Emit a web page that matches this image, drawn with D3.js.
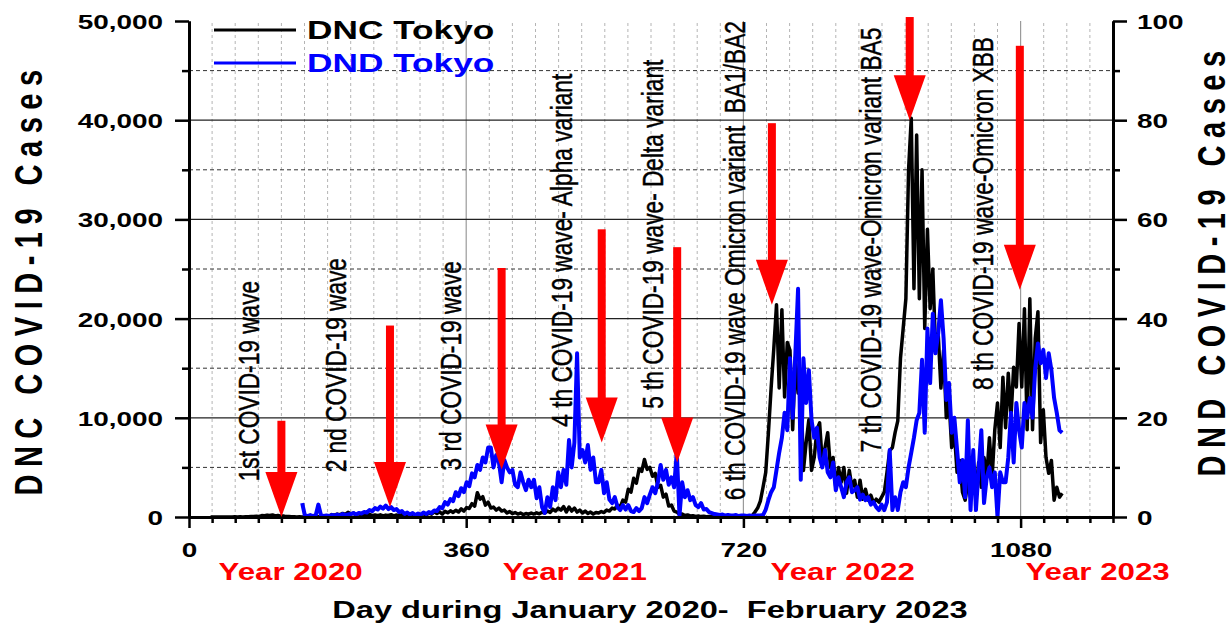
<!DOCTYPE html>
<html><head><meta charset="utf-8">
<script src="https://cdn.jsdelivr.net/npm/d3@7"></script>
<style>
html,body{margin:0;padding:0;background:#fff;}
svg{display:block;}
</style></head><body>
<svg id="chart" width="1232" height="626"></svg>
<script>
// ---------------- DATA ----------------
// DNC Tokyo daily cases, sampled every 3.5 days from day 28
const dncStartDay = 28, dncStep = 3.5;
const dncCases = [
  0,2,3,1,5,8,4,10,12,20,
  10,15,12,20,18,40,45,70,60,140,
  120,190,150,200,110,160,90,110,40,60,
  20,30,10,15,5,15,20,35,20,45,
  30,55,60,130,100,240,180,290,230,360,
  260,470,300,400,200,350,180,280,150,260,
  140,210,130,220,110,190,150,230,120,200,
  110,240,140,280,130,250,170,290,190,350,
  180,390,290,530,350,520,300,570,420,620,
  460,680,500,820,600,950,860,1340,1100,2450,
  1800,2050,1200,1500,900,1000,700,900,600,700,
  400,550,350,450,300,400,250,350,280,400,
  300,420,320,480,400,600,450,800,600,900,
  700,1050,500,1000,600,900,500,700,400,600,
  350,500,300,450,400,550,450,700,600,900,
  800,1200,1000,1700,1500,2800,2500,3900,3400,4800,
  4600,5800,4800,5000,4100,4400,3000,3200,2000,2300,
  1100,1200,600,500,250,300,150,200,100,130,
  60,100,40,70,30,50,20,40,15,30,
  10,30,15,25,20,30,25,40,60,80,
  60,150,500,900,1600,3000,4500,8500,13000,17000,
  21400,13000,20900,12100,17600,16800,8800,16100,12500,13800,
  4700,7500,9800,4700,6000,8800,9500,5400,7000,8500,
  5000,6000,3000,5000,3500,5000,2400,4700,3000,3700,
  2000,3700,1800,2800,1700,2200,1400,1800,1500,2000,
  2500,4500,6700,7000,8500,9700,16000,19000,22000,35000,
  40200,23000,38500,22000,35000,19000,29000,21000,25000,17000,
  18500,13000,16800,10000,11800,7000,8500,4500,5700,2500,
  1700,3500,2000,4700,2500,5500,3000,6000,4000,8000,
  4000,8800,11500,7000,14100,9000,14500,10000,15100,13100,
  19500,13100,21000,8800,22000,8800,18000,20700,7500,10800,
  6000,4400,5700,1700,3000,2000,2400
];
// DND Tokyo daily values, sampled every 3.5 days from day 147
const dndStartDay = 147, dndStep = 3.5;
const dndCases = [
  2.8,0.3,0.2,0.4,0.2,0.3,2.5,0.3,0.2,0.3,
  0.2,0.4,0.3,0.5,0.3,0.6,0.4,0.5,0.6,0.8,
  0.5,0.8,0.7,1.0,0.9,1.4,1.2,1.8,1.5,2.1,
  1.7,2.3,1.6,2.0,1.4,1.6,1.0,1.2,0.6,0.9,
  0.5,0.8,0.4,0.7,0.5,0.9,0.6,1.0,0.8,1.3,
  1.2,2.0,1.8,3.0,2.5,3.6,3.2,5.0,4.2,5.8,
  5.0,7.0,6.2,8.8,8.0,10.5,9.5,12.0,11.0,14.0,
  14,10,12.5,11,7,11.5,10,9,9.5,6.5,
  6,9,7,5.4,7.5,6,7.5,3.8,6,2,
  0.8,4,2,6,3.4,9,6,9.5,6.5,15.5,
  10,15,33,12,13.5,11,14.5,9.5,12,7,
  7,9.5,4.8,7,3.5,2.8,4,2,1.4,2.4,
  1.5,2.4,1.2,1,1.8,1.2,1.8,4,2.8,4.5,
  6,4.8,7,10.5,7.5,9.5,6.5,8,6,13,
  0.3,7,4,5.4,3.4,4,2.4,2,2.8,1.5,
  1.6,1,0.8,0.6,0.5,0.4,0.5,0.3,0.4,0.3,
  0.3,0.4,0.2,0.3,0.3,0.2,0.3,0.2,0.3,0.3,
  0.3,0.4,1.5,3.4,5,6,9.5,13,16,21,
  17.5,32,20,33,46,7.5,32,23,29.6,19.5,
  16,18,12,10,13.5,9,8,11,5.4,8,
  6,4,7,8,5,5.4,6,3.5,4.5,3.4,
  4,2.5,3,2,1.4,2.5,1.4,3,13.5,1.4,
  4,1.4,5,7,6,10,13,16,19.5,21,
  31.7,17,38,27,41,33,37,43.7,36,23.6,
  27,17,20,13.5,7,11.5,4,19.5,1.4,13.5,
  1.4,9.5,17.5,2.8,8,10,6,9,0,9,
  7,7,12,21,11,23,17.5,14,23,20,
  24,20,30,35,31,33.7,28,33,29.6,24,
  21,17.5,17
];
const seriesNames = ["DNC Tokyo", "DND Tokyo"];
const xTicks = [0, 360, 720, 1080];
const yLeftTicks = [0, 10000, 20000, 30000, 40000, 50000];
const yRightTicks = [0, 20, 40, 60, 80, 100];
const yearLabels = ["Year 2020", "Year 2021", "Year 2022", "Year 2023"];
const yearLabelDays = [132, 501, 849, 1180];
// wave annotations (label text, day and DNC level where the text starts)
const waveLabels = [
  "1st COVID-19 wave",
  "2 nd COVID-19 wave",
  "3 rd COVID-19 wave",
  "4 th COVID-19 wave- Alpha variant",
  "5 th COVID-19 wave- Delta variant",
  "6 th COVID-19 wave Omicron variant  BA1/BA2",
  "7 th COVID-19 wave-Omicron variant BA5",
  "8 th COVID-19 wave-Omicron XBB"
];
const waveLabelDays = [91, 204, 353, 497, 616, 722, 899, 1044];
const waveLabelCases = [3600, 4500, 4700, 9100, 10900, 1700, 6500, 12800];
// red arrows: day, start level, tip level (DNC cases)
const arrowDays = [120, 261, 406, 536, 634, 757, 936, 1079];
const arrowFrom = [9700, 19300, 25100, 29000, 27200, 39700, 50400, 47500];
const arrowTo = [0, 1000, 4800, 7500, 5500, 21400, 40000, 22900];

// ---------------- CHART ----------------
const FONT = '"Liberation Sans", Arial, Helvetica, sans-serif';
const SX = 1.33; // horizontal stretch of the original figure
const svg = d3.select('#chart').attr('font-family', FONT);

const x = d3.scaleLinear().domain([0, 1200]).range([189, 1113]);
const yL = d3.scaleLinear().domain([0, 50000]).range([517, 21]);
const yR = d3.scaleLinear().domain([0, 100]).range([517, 21]);

// grid
const grid = svg.append('g');
const vMinor = d3.range(30, 1200, 30).filter(d => d % 360 !== 0);
grid.selectAll('.vmin').data(vMinor).join('line')
  .attr('x1', d => x(d)).attr('x2', d => x(d))
  .attr('y1', yL(50000) + 2).attr('y2', yL(0))
  .attr('stroke', '#b4b4b4').attr('stroke-width', 1).attr('stroke-dasharray', '3,3');
grid.selectAll('.vmaj').data(xTicks.filter(d => d > 0)).join('line')
  .attr('x1', d => x(d)).attr('x2', d => x(d))
  .attr('y1', yL(50000)).attr('y2', yL(0))
  .attr('stroke', '#9a9a9a').attr('stroke-width', 1.2);
const hMinor = d3.range(5000, 50000, 10000);
grid.selectAll('.hmin').data(hMinor).join('line')
  .attr('x1', x(0)).attr('x2', x(1200))
  .attr('y1', d => yL(d)).attr('y2', d => yL(d))
  .attr('stroke', '#333').attr('stroke-width', 1).attr('stroke-dasharray', '4,3');
grid.selectAll('.hmaj').data(yLeftTicks.filter(d => d > 0 && d < 50000)).join('line')
  .attr('x1', x(0)).attr('x2', x(1200))
  .attr('y1', d => yL(d)).attr('y2', d => yL(d))
  .attr('stroke', '#222').attr('stroke-width', 1.2);

// series
const dncPts = dncCases.map((v, i) => [dncStartDay + i * dncStep, v]);
const dndPts = dndCases.map((v, i) => [dndStartDay + i * dndStep, v]);
svg.append('path').datum(dncPts)
  .attr('d', d3.line().x(d => x(d[0])).y(d => yL(d[1])))
  .attr('fill', 'none').attr('stroke', '#000').attr('stroke-width', 3.5).attr('stroke-linejoin', 'round');
svg.append('path').datum(dndPts)
  .attr('d', d3.line().x(d => x(d[0])).y(d => yR(d[1])))
  .attr('fill', 'none').attr('stroke', '#0000ff').attr('stroke-width', 4).attr('stroke-linejoin', 'round');

// axes
function styleAxis(g) {
  g.select('.domain').attr('stroke', '#000').attr('stroke-width', 3);
  g.selectAll('.tick line').attr('stroke', '#000').attr('stroke-width', 2.5);
}
const axL = svg.append('g').attr('transform', `translate(${x(0)},0)`)
  .call(d3.axisLeft(yL).tickValues(yLeftTicks).tickFormat(d3.format(',')).tickSize(14).tickSizeOuter(0));
styleAxis(axL);
axL.selectAll('text').attr('font-size', 21).attr('font-weight', 'bold').attr('fill', '#000')
  .attr('font-family', FONT).attr('x', -26 / SX).attr('dy', '0.36em').attr('transform', `scale(${SX},1)`);
const axLm = svg.append('g').attr('transform', `translate(${x(0)},0)`)
  .call(d3.axisLeft(yL).tickValues(hMinor).tickFormat('').tickSize(7).tickSizeOuter(0));
styleAxis(axLm);

const axR = svg.append('g').attr('transform', `translate(${x(1200)},0)`)
  .call(d3.axisRight(yR).tickValues(yRightTicks).tickSize(14).tickSizeOuter(0));
styleAxis(axR);
axR.selectAll('text').attr('font-size', 21).attr('font-weight', 'bold').attr('fill', '#000')
  .attr('font-family', FONT).attr('x', 24 / SX).attr('dy', '0.36em').attr('transform', `scale(${SX},1)`);
const axRm = svg.append('g').attr('transform', `translate(${x(1200)},0)`)
  .call(d3.axisRight(yR).tickValues(d3.range(10, 100, 20)).tickFormat('').tickSize(7).tickSizeOuter(0));
styleAxis(axRm);

const axB = svg.append('g').attr('transform', `translate(0,${yL(0)})`)
  .call(d3.axisBottom(x).tickValues(xTicks).tickFormat(d3.format('d')).tickSize(11).tickSizeOuter(0));
styleAxis(axB);
axB.selectAll('text').attr('font-size', 21).attr('font-weight', 'bold').attr('fill', '#000')
  .attr('font-family', FONT).attr('y', 40).attr('dy', 0).attr('transform', `scale(${SX},1)`);
const axBm = svg.append('g').attr('transform', `translate(0,${yL(0)})`)
  .call(d3.axisBottom(x).tickValues(d3.range(30, 1201, 30).filter(d => d % 360 !== 0)).tickFormat('').tickSize(6).tickSizeOuter(0));
styleAxis(axBm);

// helper for stretched horizontal text
function hText(px, py, txt, size, color, anchor) {
  return svg.append('text')
    .attr('transform', `translate(${px},${py}) scale(${SX},1)`)
    .attr('text-anchor', anchor).attr('font-size', size).attr('font-weight', 'bold')
    .attr('fill', color).style('white-space', 'pre').text(txt);
}
// rotated text (reads bottom to top)
function vText(px, py, txt, size, weight, anchor, spacing) {
  return svg.append('text')
    .attr('transform', `translate(${px},${py}) rotate(-90) scale(1,${SX})`)
    .attr('text-anchor', anchor).attr('font-size', size).attr('font-weight', weight)
    .attr('letter-spacing', spacing || 0)
    .attr('fill', '#000').style('white-space', 'pre').text(txt);
}

// year labels
yearLabels.forEach((t, i) => hText(x(yearLabelDays[i]), 580, t, 23.5, '#ff0000', 'middle'));
// x title
hText(650, 618, 'Day during January 2020-  February 2023', 24.5, '#000', 'middle');
// y titles
vText(42, 279, 'DNC COVID-19 Cases', 29, 'bold', 'middle', 7.5);
vText(1225, 260, 'DND COVID-19 Cases', 29, 'bold', 'middle', 7.5);

// arrows
const HEAD_W = 32, HEAD_H = 45, SHAFT_W = 8;
const arrows = svg.append('g');
arrowDays.forEach((d, i) => {
  const cx = x(d), yTop = yL(arrowFrom[i]), yTip = yL(arrowTo[i]);
  arrows.append('rect').attr('x', cx - SHAFT_W / 2).attr('y', yTop)
    .attr('width', SHAFT_W).attr('height', Math.max(0, yTip - HEAD_H - yTop + 1)).attr('fill', '#ff0000');
  arrows.append('path')
    .attr('d', `M${cx - HEAD_W / 2},${yTip - HEAD_H}L${cx + HEAD_W / 2},${yTip - HEAD_H}L${cx},${yTip}Z`)
    .attr('fill', '#ff0000');
});

// wave annotations
waveLabels.forEach((t, i) => vText(x(waveLabelDays[i]), yL(waveLabelCases[i]), t, 22.7, 'normal', 'start')
  .attr('stroke', '#000').attr('stroke-width', 0.35));

// legend
const legendColors = ['#000', '#0000ff'];
seriesNames.forEach((n, i) => {
  const ly = 30 + i * 33;
  svg.append('line').attr('x1', 214).attr('x2', 296).attr('y1', ly).attr('y2', ly)
    .attr('stroke', legendColors[i]).attr('stroke-width', 3);
  hText(307, ly + 9, n, 26.5, legendColors[i], 'start');
});
</script>
</body></html>
